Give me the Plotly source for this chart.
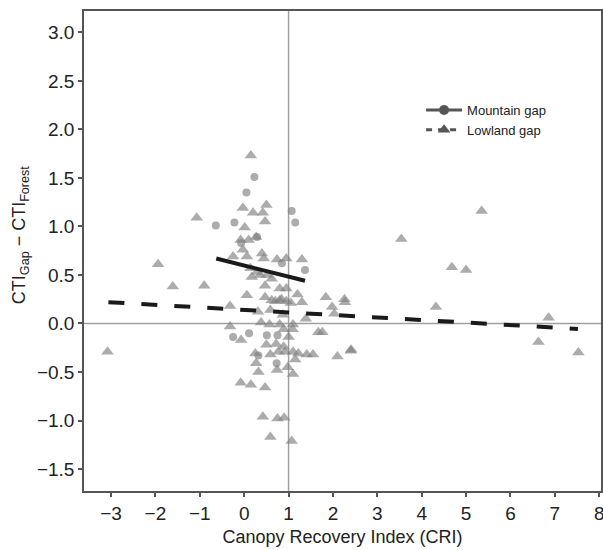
import plotly.graph_objects as go

# ---- Data ----
mountain_x = [0.23, 0.05, 1.07, 1.15, -0.64, -0.22, 0.29, -0.07, 0.85, 1.37,
              -0.25, 0.11, 0.51, 0.75, 0.73, 0.32]
mountain_y = [1.51, 1.35, 1.16, 1.04, 1.01, 1.04, 0.89, 0.83, 0.62, 0.55,
              -0.14, -0.10, -0.12, -0.12, -0.41, -0.33]

lowland_x = [0.15, -1.07, -0.03, 0.20, 0.50, 0.42, 0.47, 0.01, -0.08, 0.10,
             0.27, -0.03, -0.25, 0.06, 0.40, 0.44, 0.74, 0.95, 1.30, 0.14,
             0.29, 0.17, 0.36, 0.52, 0.62, -0.90, 0.47, 0.80, 0.95, 1.20,
             0.06, 0.47, 0.62, 0.80, 0.95, 1.05, 1.30, 1.84, 1.98, -0.32,
             0.31, 0.59, 0.87, 1.39, 2.03, 2.27, -0.32, -0.07, 0.38, 0.57,
             0.80, 1.10, 1.09, 1.67, 1.76, 0.89, 1.00, 0.50, 0.72, 0.89,
             0.77, 0.92, 1.10, 1.22, 1.41, 1.55, 0.59, 0.25, 0.27, 1.15,
             0.98, 1.10, 0.74, 0.32, 2.10, 2.40, -0.08, 0.15, 0.47, 0.42,
             0.75, 0.90, 0.59, 1.07, -1.94, -1.61, -3.08, 5.35, 3.54, 4.68,
             5.00, 2.26, 4.32, 6.86, 6.63, 7.53, 2.41, 0.70, 0.84]
lowland_y = [1.73, 1.09, 1.19, 1.14, 1.22, 1.14, 1.05, 0.99, 0.86, 0.86,
             0.89, 0.76, 0.69, 0.69, 0.72, 0.67, 0.66, 0.67, 0.66, 0.57,
             0.53, 0.48, 0.50, 0.50, 0.46, 0.39, 0.39, 0.36, 0.36, 0.30,
             0.29, 0.27, 0.24, 0.24, 0.23, 0.21, 0.22, 0.27, 0.17, 0.18,
             0.12, 0.14, 0.09, 0.05, 0.10, 0.22, -0.03, -0.17, 0.01, -0.01,
             -0.01, -0.01, -0.06, -0.09, -0.09, -0.06, -0.14, -0.22, -0.21, -0.24,
             -0.29, -0.29, -0.29, -0.31, -0.32, -0.32, -0.32, -0.31, -0.41, -0.37,
             -0.45, -0.52, -0.48, -0.50, -0.34, -0.28, -0.61, -0.63, -0.66, -0.96,
             -0.98, -0.97, -1.17, -1.21, 0.61, 0.38, -0.29, 1.16, 0.87, 0.58,
             0.55, 0.25, 0.17, 0.06, -0.19, -0.30, -0.27, 0.23, 0.25]

# Fitted regression lines (end points)
mountain_fit_x = [-0.63, 1.37]
mountain_fit_y = [0.67, 0.44]
lowland_fit_x = [-3.06, 7.52]
lowland_fit_y = [0.22, -0.056]

x_ticks = [-3, -2, -1, 0, 1, 2, 3, 4, 5, 6, 7, 8]
y_ticks = [-1.5, -1.0, -0.5, 0.0, 0.5, 1.0, 1.5, 2.0, 2.5, 3.0]
x_ref = 1
y_ref = 0

marker_color = "rgba(128,128,128,0.65)"
dark = "#555555"

fig = go.Figure()

fig.add_trace(go.Scatter(x=lowland_x, y=lowland_y, mode="markers",
                         marker=dict(symbol="triangle-up", size=11, color=marker_color,
                                     line=dict(width=0)),
                         showlegend=False))
fig.add_trace(go.Scatter(x=mountain_x, y=mountain_y, mode="markers",
                         marker=dict(symbol="circle", size=8, color=marker_color,
                                     line=dict(width=0)),
                         showlegend=False))

fig.add_trace(go.Scatter(x=mountain_fit_x, y=mountain_fit_y, mode="lines",
                         line=dict(color="#1a1a1a", width=4), showlegend=False))
fig.add_trace(go.Scatter(x=lowland_fit_x, y=lowland_fit_y, mode="lines",
                         line=dict(color="#1a1a1a", width=4, dash="16px,17px"),
                         showlegend=False))

# legend entries
fig.add_trace(go.Scatter(x=[None], y=[None], mode="lines+markers", name="Mountain gap",
                         line=dict(color=dark, width=3),
                         marker=dict(symbol="circle", size=10, color=dark)))
fig.add_trace(go.Scatter(x=[None], y=[None], mode="lines+markers", name="Lowland gap",
                         line=dict(color=dark, width=3, dash="6px,6px"),
                         marker=dict(symbol="triangle-up", size=11, color=dark)))

fig.add_shape(type="line", xref="x", yref="paper", x0=x_ref, x1=x_ref, y0=0, y1=1,
              line=dict(color="#a0a0a0", width=1.5), layer="below")
fig.add_shape(type="line", xref="paper", yref="y", x0=0, x1=1, y0=y_ref, y1=y_ref,
              line=dict(color="#a0a0a0", width=1.5), layer="below")

fig.add_annotation(text="CTI<sub>Gap</sub> − CTI<sub>Forest</sub>", textangle=-90,
                   xref="paper", yref="paper", x=0, xshift=-64, y=0.533,
                   xanchor="center", yanchor="middle", showarrow=False,
                   font=dict(size=18, color="#222222"))

fig.update_layout(
    width=603, height=550,
    margin=dict(l=84, r=2, t=11, b=59),
    plot_bgcolor="white", paper_bgcolor="white",
    font=dict(family="Liberation Sans, Arial, sans-serif", color="#222222"),
    legend=dict(x=0.652, y=0.825, xanchor="left", yanchor="top",
                font=dict(size=13, color="#222222"), bgcolor="rgba(0,0,0,0)",
                tracegroupgap=0, itemwidth=36),
)
fig.update_xaxes(range=[-3.61, 8.04], tickvals=x_ticks, showgrid=False, zeroline=False,
                 showline=True, linecolor=dark, linewidth=1.5, mirror=True,
                 ticks="outside", ticklen=4, tickwidth=1.5, tickcolor=dark,
                 tickfont=dict(size=19), automargin=False, ticklabeloverflow="allow",
                 title=dict(text="Canopy Recovery Index (CRI)", font=dict(size=18), standoff=8))
fig.update_yaxes(range=[-1.726, 3.22], tickvals=y_ticks, tickformat=".1f", showgrid=False,
                 zeroline=False, showline=True, linecolor=dark, linewidth=1.5, mirror=True,
                 ticks="outside", ticklen=4, tickwidth=1.5, tickcolor=dark,
                 tickfont=dict(size=19), automargin=False, ticklabeloverflow="allow")

fig.write_html("out.html", config={"displayModeBar": False},
               post_script="document.body.style.margin='0';document.body.style.overflow='hidden';")
